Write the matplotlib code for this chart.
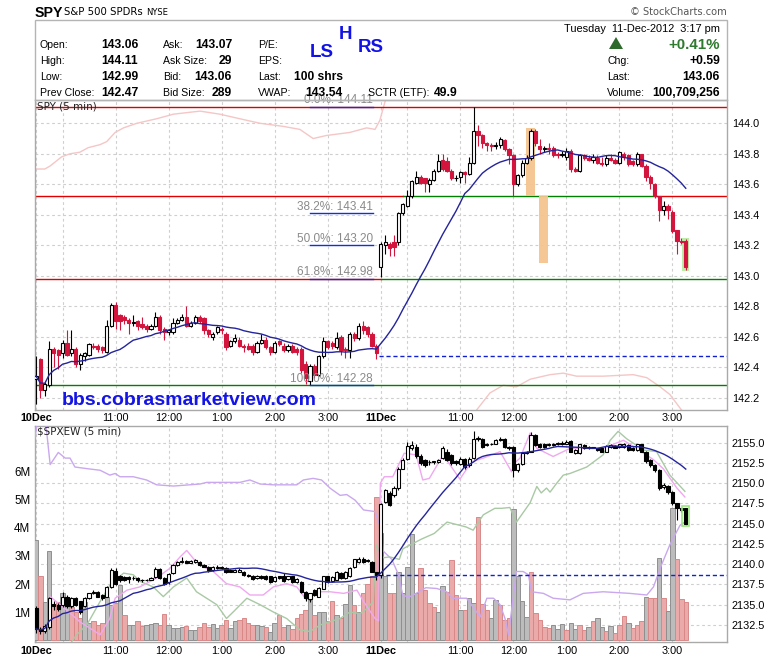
import numpy as np
import matplotlib
matplotlib.use('Agg')
import matplotlib.pyplot as plt
from matplotlib.patches import Rectangle, Polygon
from matplotlib import transforms

plt.rcParams['font.family'] = ['Liberation Sans', 'DejaVu Sans']

# ---------------- data ----------------
# bar index 0..77 = 10 Dec 9:30-15:55, 78..147 = 11 Dec 9:30-15:15 (5-min bars)
spy_open = [142.32,142.45,142.25,142.28,142.52,142.51,142.49,142.56,142.49,142.52,142.42,142.47,142.48,142.54,142.54,142.53,142.50,142.67,142.81,142.74,
            142.73,142.71,142.69,142.70,142.68,142.67,142.65,142.67,142.73,142.65,142.63,142.63,142.69,142.71,142.73,142.67,142.69,142.73,142.72,142.64,
            142.60,142.63,142.65,142.62,142.54,142.57,142.58,142.54,142.54,142.54,142.50,142.56,142.58,142.53,142.50,142.57,142.54,142.51,142.54,142.52,
            142.52,142.42,142.31,142.41,142.35,142.47,142.57,142.56,142.53,142.60,142.52,142.51,142.62,142.59,142.67,142.66,142.62,142.54,
            143.06,143.20,143.21,143.22,143.22,143.41,143.46,143.52,143.61,143.65,143.64,143.60,143.63,143.69,143.76,143.75,143.69,143.64,143.65,143.68,
            143.67,143.74,143.95,143.92,143.87,143.86,143.85,143.86,143.89,143.83,143.79,143.60,143.66,143.74,143.77,143.95,143.85,143.83,143.84,143.84,
            143.80,143.79,143.78,143.82,143.70,143.69,143.79,143.77,143.76,143.77,143.74,143.73,143.77,143.76,143.74,143.80,143.79,143.75,143.73,143.80,
            143.72,143.65,143.60,143.52,143.43,143.46,143.42,143.30,143.23,143.23]
spy_high = [142.47,142.46,142.30,142.57,142.53,142.52,142.58,142.64,142.64,142.53,142.49,142.50,142.56,142.56,142.55,142.54,142.71,142.82,142.83,142.75,
            142.74,142.72,142.74,142.71,142.73,142.68,142.68,142.76,142.74,142.66,142.65,142.72,142.72,142.75,142.80,142.70,142.74,142.74,142.73,142.65,
            142.63,142.67,142.66,142.63,142.58,142.62,142.60,142.55,142.56,142.55,142.57,142.62,142.60,142.54,142.57,142.58,142.56,142.55,142.55,142.53,
            142.53,142.44,142.42,142.42,142.48,142.60,142.58,142.57,142.63,142.61,142.53,142.63,142.63,142.69,142.70,142.67,142.63,142.55,
            143.22,143.27,143.22,143.27,143.42,143.48,143.56,143.63,143.69,143.66,143.64,143.64,143.70,143.80,143.80,143.78,143.70,143.66,143.69,143.69,
            143.78,144.11,143.99,143.93,143.88,143.87,143.88,143.91,143.90,143.84,143.80,143.67,143.76,143.79,143.96,143.96,143.90,143.85,143.87,143.85,
            143.81,143.82,143.84,143.83,143.71,143.80,143.80,143.79,143.80,143.79,143.78,143.79,143.80,143.77,143.82,143.81,143.80,143.76,143.81,143.80,
            143.73,143.66,143.61,143.52,143.49,143.47,143.43,143.30,143.25,143.24]
spy_low = [142.16,142.20,142.21,142.27,142.40,142.39,142.46,142.47,142.47,142.40,142.38,142.44,142.47,142.52,142.50,142.49,142.49,142.66,142.65,142.64,
           142.68,142.62,142.67,142.64,142.65,142.63,142.64,142.66,142.62,142.58,142.61,142.62,142.68,142.70,142.66,142.66,142.68,142.69,142.62,142.60,
           142.58,142.62,142.62,142.51,142.53,142.56,142.53,142.50,142.51,142.48,142.49,142.55,142.52,142.48,142.49,142.54,142.50,142.50,142.49,142.48,
           142.36,142.29,142.28,142.33,142.34,142.46,142.52,142.52,142.52,142.48,142.46,142.46,142.57,142.58,142.62,142.60,142.53,142.45,
           142.99,143.14,143.13,143.13,143.20,143.40,143.45,143.51,143.60,143.60,143.55,143.55,143.62,143.68,143.69,143.68,143.63,143.62,143.61,143.61,
           143.66,143.73,143.85,143.84,143.82,143.82,143.83,143.84,143.82,143.73,143.52,143.59,143.65,143.73,143.76,143.85,143.80,143.81,143.80,143.78,
           143.77,143.78,143.76,143.68,143.68,143.68,143.76,143.75,143.74,143.73,143.72,143.72,143.75,143.73,143.73,143.76,143.72,143.72,143.72,143.71,
           143.62,143.57,143.51,143.36,143.40,143.37,143.28,143.14,143.21,143.04]
spy_close = [142.34,142.25,142.29,142.52,142.49,142.48,142.56,142.48,142.52,142.42,142.48,142.49,142.55,142.53,142.52,142.51,142.67,142.81,142.70,142.70,
             142.71,142.69,142.695,142.67,142.66,142.65,142.67,142.73,142.64,142.63,142.64,142.69,142.71,142.73,142.67,142.69,142.73,142.70,142.64,142.62,
             142.62,142.66,142.64,142.53,142.57,142.59,142.54,142.53,142.52,142.50,142.56,142.58,142.53,142.50,142.56,142.55,142.51,142.54,142.50,142.50,
             142.38,142.33,142.41,142.35,142.47,142.57,142.53,142.54,142.59,142.51,142.51,142.62,142.59,142.67,142.64,142.62,142.54,142.49,
             143.21,143.22,143.18,143.19,143.41,143.47,143.52,143.62,143.65,143.61,143.61,143.63,143.69,143.75,143.70,143.69,143.64,143.64,143.68,143.67,
             143.74,143.95,143.92,143.87,143.86,143.85,143.86,143.90,143.83,143.79,143.60,143.66,143.74,143.77,143.95,143.87,143.83,143.84,143.83,143.79,
             143.79,143.80,143.82,143.70,143.69,143.79,143.77,143.76,143.78,143.74,143.73,143.77,143.76,143.74,143.81,143.78,143.73,143.73,143.80,143.72,
             143.65,143.61,143.52,143.43,143.46,143.43,143.29,143.23,143.22,143.06]

ew_open = [2134.6,2132.0,2131.8,2132.2,2135.1,2135.0,2135.0,2136.0,2134.8,2135.8,2135.4,2134.9,2135.8,2136.4,2136.6,2136.2,2136.0,2137.2,2139.2,2138.5,
           2138.4,2138.4,2138.25,2138.3,2138.1,2138.1,2138.1,2138.4,2139.4,2138.3,2137.8,2138.9,2139.9,2140.3,2140.4,2140.2,2140.3,2140.3,2139.9,2139.7,
           2139.3,2139.5,2139.7,2139.5,2139.3,2139.1,2139.1,2139.1,2138.7,2138.6,2138.3,2138.6,2138.6,2138.5,2137.9,2138.5,2138.5,2138.2,2138.5,2137.8,
           2137.8,2136.6,2135.7,2136.8,2136.0,2137.0,2138.5,2137.9,2138.1,2138.9,2138.3,2138.5,2139.6,2140.3,2140.7,2140.5,2140.3,2139.0,
           2138.7,2147.7,2148.8,2148.5,2149.4,2151.8,2153.0,2154.4,2154.5,2153.4,2152.9,2152.6,2152.6,2152.6,2153.1,2153.9,2153.5,2152.7,2152.4,2153.0,
           2152.2,2153.1,2155.4,2155.5,2154.9,2154.85,2154.9,2155.5,2155.5,2154.5,2154.5,2151.6,2152.4,2153.7,2153.9,2156.0,2154.9,2154.9,2154.7,2154.7,
           2154.8,2154.8,2154.9,2155.2,2153.7,2153.7,2154.7,2154.4,2154.4,2154.3,2154.3,2153.9,2154.5,2154.6,2154.5,2154.5,2154.7,2154.4,2154.1,2154.8,
           2153.9,2152.9,2152.3,2151.6,2149.5,2149.7,2148.9,2147.5,2146.9,2146.9]
ew_high = [2134.8,2132.3,2132.6,2136.0,2135.4,2135.2,2136.6,2136.2,2136.0,2136.0,2135.5,2135.9,2136.5,2136.8,2136.7,2136.3,2137.3,2139.5,2139.5,2138.7,
           2138.5,2138.5,2138.5,2138.4,2138.2,2138.2,2138.4,2139.6,2139.5,2138.4,2138.9,2140.0,2140.4,2140.9,2140.5,2140.5,2140.6,2140.4,2140.0,2139.8,
           2139.8,2139.9,2139.8,2139.6,2139.4,2139.4,2139.5,2139.2,2138.8,2138.7,2138.7,2138.7,2138.7,2138.6,2138.5,2138.6,2138.9,2138.6,2138.6,2138.3,
           2137.9,2136.7,2136.5,2136.9,2137.2,2138.6,2138.6,2138.5,2139.2,2139.0,2139.2,2139.6,2140.7,2140.9,2140.9,2140.6,2140.4,2139.1,
           2147.5,2149.3,2149.0,2149.6,2152.0,2153.1,2155.1,2155.2,2154.8,2153.6,2153.0,2152.9,2152.8,2153.0,2154.6,2154.2,2153.6,2152.9,2153.2,2153.1,
           2153.2,2156.4,2155.8,2155.6,2155.0,2155.0,2155.4,2155.7,2155.6,2154.6,2154.6,2152.5,2153.8,2154.0,2156.3,2156.1,2155.0,2155.0,2155.0,2155.0,
           2155.1,2155.2,2155.3,2155.3,2154.2,2154.9,2154.8,2154.6,2154.5,2154.4,2154.4,2154.7,2154.9,2154.7,2154.9,2155.0,2154.8,2154.5,2154.9,2154.9,
           2154.0,2153.0,2152.4,2151.7,2150.0,2149.8,2149.0,2147.6,2147.0,2147.0]
ew_low = [2131.5,2131.4,2131.5,2132.0,2134.3,2134.2,2134.7,2134.6,2134.6,2134.8,2133.8,2134.7,2135.7,2136.3,2135.9,2135.6,2135.9,2137.1,2137.4,2137.8,
          2137.9,2137.7,2138.0,2137.8,2137.8,2137.9,2138.0,2138.3,2138.2,2137.4,2137.6,2138.8,2139.8,2140.2,2140.1,2140.1,2140.2,2139.8,2139.6,2139.1,
          2139.2,2139.4,2139.4,2138.9,2139.0,2139.0,2139.0,2138.6,2138.4,2138.1,2138.2,2138.2,2138.1,2137.7,2137.8,2138.2,2137.8,2138.1,2137.7,2137.7,
          2136.5,2135.4,2135.3,2136.1,2135.9,2136.9,2137.7,2137.8,2138.0,2138.2,2138.2,2138.4,2139.5,2140.2,2140.2,2140.3,2139.0,2138.1,
          2138.3,2147.6,2147.2,2148.3,2149.2,2151.7,2152.9,2154.1,2153.1,2152.3,2152.0,2152.3,2152.4,2152.5,2153.0,2152.7,2152.3,2152.3,2152.2,2151.8,
          2152.0,2153.0,2155.2,2154.4,2154.6,2154.7,2154.8,2155.2,2154.4,2154.1,2150.8,2151.4,2152.3,2153.6,2153.8,2154.6,2154.4,2154.4,2154.6,2154.6,
          2154.7,2154.7,2154.8,2153.8,2153.6,2153.6,2154.2,2154.2,2154.3,2154.0,2153.8,2153.8,2154.4,2154.3,2154.4,2154.4,2154.0,2154.0,2154.0,2153.8,
          2152.5,2152.0,2151.4,2149.2,2149.3,2148.7,2147.3,2145.5,2146.5,2144.9]
ew_close = [2132.0,2131.8,2132.4,2135.8,2134.8,2134.5,2136.0,2134.8,2135.8,2135.0,2134.1,2135.8,2136.4,2136.6,2136.0,2135.8,2137.2,2139.3,2137.6,2138.0,
            2138.1,2138.2,2138.3,2138.0,2138.0,2138.0,2138.3,2139.4,2138.3,2137.6,2138.8,2139.9,2140.3,2140.4,2140.2,2140.4,2140.5,2139.9,2139.7,2139.3,
            2139.7,2139.7,2139.5,2139.0,2139.1,2139.3,2139.3,2138.7,2138.5,2138.2,2138.6,2138.3,2138.2,2137.8,2138.4,2138.3,2137.9,2138.5,2137.8,2138.2,
            2136.6,2135.8,2136.4,2136.2,2137.1,2138.5,2137.8,2138.4,2139.1,2138.3,2139.1,2139.5,2140.6,2140.7,2140.3,2140.4,2139.1,2138.7,
            2147.4,2149.2,2147.3,2149.4,2151.8,2152.9,2154.6,2154.7,2153.3,2152.5,2152.2,2152.6,2152.7,2152.9,2154.3,2152.9,2152.5,2152.5,2153.0,2152.0,
            2153.0,2155.5,2155.6,2154.5,2154.7,2154.9,2155.3,2155.3,2154.5,2154.3,2151.6,2152.4,2153.7,2153.9,2156.0,2154.7,2154.5,2154.5,2154.9,2154.9,
            2155.0,2155.0,2155.1,2153.9,2154.1,2154.8,2154.3,2154.4,2154.4,2154.1,2153.9,2154.6,2154.7,2154.4,2154.8,2154.8,2154.1,2154.1,2154.8,2153.9,
            2152.7,2152.3,2151.6,2149.4,2149.8,2148.9,2147.5,2146.9,2146.7,2145.0]
volume_m = [3.57,2.27,1.38,3.18,1.26,1.38,1.67,1.55,1.20,1.02,0.78,1.38,0.60,0.67,0.55,0.60,1.55,1.26,1.32,1.97,
            0.91,0.55,0.55,0.67,0.52,0.55,0.57,0.60,0.55,0.93,0.55,0.43,0.43,0.49,0.52,0.36,0.36,0.49,0.60,0.49,
            0.57,0.43,0.55,0.72,0.43,0.69,0.72,0.78,0.60,0.55,0.55,0.52,0.49,0.28,0.60,0.91,0.49,0.55,0.40,0.78,
            0.93,1.08,1.44,0.91,1.00,1.02,0.69,1.40,0.91,0.78,1.28,1.95,1.26,1.00,1.69,1.99,2.30,5.10,
            3.81,2.27,1.67,1.67,2.44,1.67,2.60,3.78,1.70,2.56,1.79,1.32,1.20,1.02,1.93,1.73,2.86,1.61,1.08,1.08,
            1.50,1.32,4.37,1.28,1.08,0.78,1.44,1.26,0.72,0.78,4.66,2.27,1.40,0.84,2.44,0.96,0.72,0.49,0.43,0.55,
            0.40,0.57,0.37,0.60,0.39,0.55,0.37,0.49,0.67,0.78,0.49,0.34,0.52,0.27,0.55,0.88,0.60,0.45,0.55,0.69,
            1.55,1.50,1.52,2.94,1.52,1.04,4.72,2.88,1.47,1.35]
volume_dir = ("grggrrggrrrggrrrggrgrggrrgggrrggggrggrrrggrrggrrrrggrggrrgrrrrgrggrrgrggrgrrrr"
              "ggrrgggggrrrrggrrrgrggrrrggrrrgggg" "rrrrrgggrggrrgrggrgrrrgrrrgrrgrggrrrr")

# overlay lines (bar index, value)
spy_pink1_x = [-0.3, 2.0, 3.2, 5.8, 7.7, 9.9, 11.8, 14.5, 16.0, 17.9, 19.8, 22.8, 27.3, 31.1, 37.1, 41.6, 46.1, 50.7, 55.9, 59.7, 62.7, 65.7, 71.0, 74.8, 76.7, 77.8, 79.7]
spy_pink1_y = [143.70, 143.70, 143.72, 143.78, 143.80, 143.81, 143.84, 143.86, 143.88, 143.94, 143.97, 144.00, 144.03, 144.06, 144.08, 144.06, 144.03, 144.00, 143.98, 143.96, 143.90, 143.92, 143.94, 143.97, 143.96, 144.02, 144.22]
spy_pink2_x = [99.2, 102.7, 105.7, 108.7, 111.8, 116.3, 119.3, 122.3, 128.3, 135.1, 138.2, 141.2, 143.4, 146.5]
spy_pink2_y = [142.10, 142.23, 142.28, 142.27, 142.32, 142.35, 142.36, 142.34, 142.34, 142.35, 142.33, 142.27, 142.22, 142.10]

ew_magenta_x = [3.2, 6.6, 9.9, 14.5, 16.7, 17.9, 20.6, 23.5, 27.3, 30.3, 32.6, 34.1, 35.6, 37.1, 40.1, 43.1, 46.1, 48.4, 51.4, 53.7,
                56.7, 59.0, 61.2, 63.1, 66.5, 69.6, 72.6, 74.1, 76.7, 77.5, 77.9, 78.8, 80.7, 82.6, 83.3, 86.0, 87.5, 89.0, 90.5, 91.8,
                93.0, 95.9, 97.5, 98.9, 101.2, 105.0, 107.6, 108.3, 109.5, 111.8, 113.3, 117.0, 120.8, 128.3, 132.9, 135.9, 139.7, 141.9, 145.0, 146.8]
ew_magenta_y = [2136.0, 2134.5, 2132.9, 2131.3, 2133.3, 2135.8, 2136.8, 2137.2, 2138.3, 2139.5, 2140.9, 2141.7, 2140.7, 2139.9, 2139.1, 2137.6, 2137.2, 2136.2, 2136.2, 2137.2,
                2137.6, 2137.2, 2135.6, 2136.6, 2136.6, 2136.4, 2136.8, 2135.4, 2133.3, 2133.0, 2150.0, 2150.8, 2150.8, 2152.9, 2153.7, 2153.5, 2150.4, 2150.6, 2152.0, 2153.2,
                2152.8, 2150.5, 2151.8, 2152.7, 2153.1, 2153.9, 2151.4, 2152.5, 2153.1, 2156.2, 2154.3, 2153.3, 2154.3, 2154.3, 2155.3, 2154.3, 2152.9, 2151.8, 2149.4, 2148.3]
ew_lavender_x = [-0.3, 0.6, 2.0, 3.2, 5.05, 6.6, 7.7, 8.8, 11.5, 14.5, 16.7, 17.9, 19.0, 22.0, 25.0, 27.3, 31.1, 37.1, 38.6, 46.1,
                 48.4, 50.7, 53.7, 59.0, 60.5, 62.7, 64.6, 66.5, 68.8, 70.3, 72.2, 74.1, 76.7, 77.8, 78.6, 80.5, 82.0, 83.0, 84.6, 86.0,
                 88.2, 90.7, 92.9, 94.3, 97.4, 100.5, 102.0, 103.5, 105.0, 106.1, 106.9, 108.7, 110.2, 111.4, 112.1, 114.8, 117.0, 120.8, 123.8, 128.3,
                 134.3, 138.2, 139.7, 141.2, 143.4, 145.7, 146.8]
ew_lavender_y = [2155.5, 2158.5, 2158.5, 2152.3, 2153.8, 2153.1, 2153.1, 2152.0, 2151.8, 2151.6, 2151.0, 2151.2, 2150.8, 2150.8, 2150.4, 2149.8, 2149.65, 2149.9, 2150.1, 2150.1,
                 2150.4, 2149.9, 2149.8, 2149.8, 2150.4, 2150.6, 2150.4, 2149.4, 2148.5, 2148.6, 2147.9, 2146.7, 2146.5, 2144.8, 2141.6, 2140.6, 2138.7, 2136.1, 2136.0, 2136.4,
                 2137.1, 2137.0, 2136.6, 2135.8, 2135.8, 2133.5, 2135.8, 2135.8, 2135.0, 2133.3, 2131.3, 2139.1, 2139.1, 2138.7, 2136.6, 2136.4, 2135.8, 2135.6, 2136.4, 2136.6,
                 2136.4, 2136.2, 2137.2, 2139.5, 2142.4, 2144.8, 2145.2]
ew_green_x = [7.5, 9.2, 11.5, 14.5, 16.7, 19.8, 22.0, 23.5, 26.5, 28.8, 31.1, 34.1, 36.3, 38.6, 40.9, 43.1, 44.6, 47.7, 50.7, 53.7,
              56.7, 59.7, 62.0, 64.3, 66.5, 68.8, 71.0, 73.3, 74.8, 76.3, 76.9, 78.6, 80.0, 82.2, 83.0, 87.2, 90.1, 93.0, 97.3, 98.9,
              101.2, 103.8, 105.3, 107.2, 108.7, 111.8, 113.3, 114.3, 115.5, 116.3, 117.8, 119.3, 120.8, 124.6, 128.3, 129.9, 131.7, 133.6, 137.4, 140.4,
              143.4, 146.8]
ew_green_y = [2130.0, 2131.3, 2132.5, 2135.4, 2137.4, 2138.9, 2138.7, 2137.9, 2137.2, 2136.0, 2137.2, 2138.3, 2136.6, 2135.8, 2135.0, 2133.3, 2134.1, 2135.8, 2135.0, 2134.1,
              2133.3, 2131.9, 2131.7, 2132.5, 2132.9, 2133.3, 2134.1, 2133.9, 2134.5, 2135.4, 2142.4, 2140.8, 2140.9, 2140.6, 2141.9, 2143.1, 2143.8, 2145.2, 2144.6, 2144.2,
              2146.1, 2146.9, 2146.9, 2147.0, 2145.2, 2147.6, 2149.6, 2148.8, 2149.4, 2148.9, 2150.0, 2151.0, 2151.2, 2152.0, 2153.5, 2155.3, 2156.4, 2155.5, 2154.1, 2153.9,
              2151.0, 2149.0]

spy_prev_close = 142.47
ew_prev_close = 2138.67
fib_pct = ['0.0%', '38.2%', '50.0%', '61.8%', '100.0%']
fib_level = [144.11, 143.41, 143.20, 142.98, 142.28]
# horizontal trend lines: (value, from bar, to bar, colour)
spy_hlines = [(144.11, -0.4, 157, 'red'), (143.52, -0.4, 83.0, 'red'), (143.52, 83.0, 140.5, 'green'),
              (143.52, 140.5, 157, 'red'), (142.98, -0.4, 78.0, 'red'), (142.98, 78.0, 157, 'green'),
              (142.28, -0.4, 157, 'green')]
# annotation boxes: (bar0, bar1, low, high, colour)
spy_boxes = [(110.8, 112.8, 143.52, 143.97, '#f5c48e'), (113.8, 115.8, 143.08, 143.52, '#f5c48e'),
             (146.2, 147.7, 143.03, 143.25, '#b9eea6')]

spy_ticks = [142.2, 142.4, 142.6, 142.8, 143.0, 143.2, 143.4, 143.6, 143.8, 144.0]
ew_ticks = [2132.5, 2135.0, 2137.5, 2140.0, 2142.5, 2145.0, 2147.5, 2150.0, 2152.5, 2155.0]
vol_ticks = [1, 2, 3, 4, 5, 6]
time_tick_idx = [0, 18, 30, 42, 54, 66, 78, 96, 108, 120, 132, 144]
time_tick_lab = ['10Dec', '11:00', '12:00', '1:00', '2:00', '3:00', '11Dec', '11:00', '12:00', '1:00', '2:00', '3:00']
extra_grid_idx = [6, 84]

# ---------------- figure ----------------
W, H = 780, 659
fig = plt.figure(figsize=(W / 100, H / 100), dpi=100)
fig.patch.set_facecolor('white')

def fx(x):
    return x / W

def fy(y):
    return 1 - y / H

def rect(l, t, r, b):
    return [fx(l), fy(b), (r - l) / W, (b - t) / H]

XL = (-0.34, 156.33)
GRID = dict(color='#cfcfcf', linestyle=(0, (2.5, 2.5)), linewidth=0.8)
SPINE = '#a9a9a9'
TICKFS = 7.8

def style_axes(ax):
    for s in ax.spines.values():
        s.set_color(SPINE)
        s.set_linewidth(1.0)

def time_axis(ax):
    ax.set_xlim(*XL)
    ax.set_xticks(time_tick_idx)
    ax.set_xticklabels(time_tick_lab)
    ax.set_xticks(extra_grid_idx, minor=True)
    ax.tick_params(axis='x', which='both', length=0, pad=2.5, labelsize=TICKFS, colors='black')
    for t in ax.get_xticklabels():
        if 'Dec' in t.get_text():
            t.set_fontweight('bold')

def candles(ax, o, h, l, c, up_face, up_edge, dn_face, dn_edge, minh, width=0.72, lw=0.8):
    o = np.asarray(o); h = np.asarray(h); l = np.asarray(l); c = np.asarray(c)
    x = np.arange(len(o))
    up = c >= o
    edge = [up_edge if u else dn_edge for u in up]
    face = [up_face if u else dn_face for u in up]
    ax.vlines(x, l, h, colors=edge, linewidth=lw, zorder=3)
    ax.bar(x, np.maximum(np.abs(c - o), minh), width, bottom=np.minimum(o, c),
           color=face, edgecolor=edge, linewidth=lw, zorder=4)

def sma(v, n=20):
    v = np.asarray(v)
    return np.array([v[max(0, i - n + 1):i + 1].mean() for i in range(len(v))])

idx = np.arange(len(spy_close))

# ---------------- top panel ----------------
ax1 = fig.add_axes(rect(34.5, 100, 727, 410))
style_axes(ax1)
ax1.set_ylim(142.118, 144.153)
time_axis(ax1)
ax1.yaxis.tick_right()
ax1.set_yticks(spy_ticks)
ax1.set_yticklabels([f'{t:.1f}' for t in spy_ticks])
ax1.tick_params(axis='y', length=0, pad=3.5, labelsize=TICKFS)
ax1.grid(True, which='both', **GRID)
ax1.set_axisbelow(True)

ax1.plot(spy_pink1_x, spy_pink1_y, color='#f5c6c6', lw=1.0, zorder=2)
ax1.plot(spy_pink2_x, spy_pink2_y, color='#f5c6c6', lw=1.0, zorder=2)
for v, a, b, col in spy_hlines:
    ax1.plot([a, b], [v, v], color='#e00000' if col == 'red' else '#008000', lw=1.0, zorder=2.5)
ax1.plot([77.5, 157], [spy_prev_close, spy_prev_close], color='#1020d0', lw=1.0, ls=(0, (3, 2)), zorder=2.5)
for b0, b1, lo, hi, col in spy_boxes:
    ax1.add_patch(Rectangle((b0, lo), b1 - b0, hi - lo, facecolor=col, edgecolor='none', alpha=0.95, zorder=2.6))
lab_tr = transforms.offset_copy(ax1.transData, fig=fig, x=0, y=3.5, units='dots')
for p, v in zip(fib_pct, fib_level):
    ax1.plot([62.0, 76.2], [v, v], color='#1030e0', lw=1.0, zorder=5)
    ax1.text(76.2, v, f'{p}: {v:.2f}', transform=lab_tr, ha='right', va='baseline',
             fontsize=8.5, color='#8a8a8a', zorder=6, clip_on=False)
candles(ax1, spy_open, spy_high, spy_low, spy_close, 'white', 'black', '#d3143c', '#d3143c', 0.004)
ax1.plot(idx, sma(spy_close), color='#24249c', lw=1.0, zorder=5)
ax1.text(0.004, 0.995, 'SPY (5 min)', transform=ax1.transAxes, ha='left', va='top',
         fontsize=7.5, family=['DejaVu Sans'], color='#222222', zorder=7)
fig.text(fx(62), fy(405), 'bbs.cobrasmarketview.com', fontsize=14, fontweight='bold',
         color='#1414e6', ha='left', va='baseline')

# ---------------- bottom panel ----------------
axg = fig.add_axes(rect(34.5, 425.7, 727, 642.3))
style_axes(axg)
axg.set_ylim(2130.36, 2157.1)
time_axis(axg)
axg.grid(True, which='both', **GRID)

axv = axg.twinx()
axv.patch.set_visible(False)
axv.set_ylim(-0.07, 7.63)
for s in axv.spines.values():
    s.set_visible(False)
vface = ['#bcbcbc' if d == 'g' else '#eaaaaa' for d in volume_dir]
vedge = ['#8f8f8f' if d == 'g' else '#d98888' for d in volume_dir]
axv.bar(idx, volume_m, 1.0, color=vface, edgecolor=vedge, linewidth=0.7)

axc = axg.twinx()
axc.patch.set_visible(False)
axc.set_ylim(2130.36, 2157.1)
for s in axc.spines.values():
    s.set_visible(False)
axc.set_xlim(*XL)
axc.plot(ew_lavender_x, ew_lavender_y, color='#c9a8ee', lw=1.0, zorder=2)
axc.plot(ew_green_x, ew_green_y, color='#a9c9a4', lw=1.0, zorder=2)
axc.plot(ew_magenta_x, ew_magenta_y, color='#f0a8f0', lw=1.0, zorder=2)
axc.plot([77.5, 157], [ew_prev_close, ew_prev_close], color='#1020e0', lw=1.0, ls=(0, (3, 2)), zorder=2.5)
candles(axc, ew_open, ew_high, ew_low, ew_close, 'white', 'black', 'black', 'black', 0.05)
axc.add_patch(Rectangle((146.25, 2144.7), 1.5, 2.5, facecolor='none', edgecolor='#9be87e', lw=1.2, zorder=6))
axc.plot(idx, sma(ew_close), color='#24249c', lw=1.0, zorder=5)
axc.text(0.004, 0.995, '$SPXEW (5 min)', transform=axc.transAxes, ha='left', va='top',
         fontsize=7.5, family=['DejaVu Sans'], color='#222222', zorder=7)

# tick sides (set after twinx, which moves them)
axg.yaxis.set_ticks_position('right')
axg.yaxis.set_label_position('right')
axg.set_yticks(ew_ticks)
axg.set_yticklabels([f'{t:.1f}' for t in ew_ticks])
axg.tick_params(axis='y', which='both', left=False, labelleft=False, right=False, labelright=True,
                length=0, pad=3.5, labelsize=TICKFS)
axv.set_yticks(vol_ticks)
axv.set_yticklabels([f'{t}M' for t in vol_ticks])
axv.tick_params(axis='y', which='both', left=False, labelleft=True, right=False, labelright=False,
                length=0, pad=3, labelsize=8.3)
axc.set_yticks([])
axc.tick_params(axis='both', which='both', left=False, right=False, labelleft=False, labelright=False,
                bottom=False, labelbottom=False)
axv.tick_params(axis='x', which='both', bottom=False, labelbottom=False)

# ---------------- header ----------------
fig.add_artist(Rectangle((fx(34.5), fy(100)), (727 - 34.5) / W, (100 - 19.5) / H,
                         transform=fig.transFigure, fill=False, edgecolor='#b4b4b4', lw=1.0, zorder=10))

def T(x, y, s, size=7.6, weight='normal', color='black', ha='left', family=None):
    kw = {}
    if family:
        kw['family'] = family
    fig.text(fx(x), fy(y), s, fontsize=size, fontweight=weight, color=color, ha=ha, va='baseline', **kw)

T(35, 16.7, 'SPY', size=10.2, weight='bold')
T(64, 15.3, 'S&P 500 SPDRs', size=7.3, family=['DejaVu Sans'])
T(146, 15.3, 'NYSE', size=6.0, family=['DejaVu Sans'])
T(727, 15, '\u00a9 StockCharts.com', size=7.1, color='#555555', ha='right', family=['DejaVu Sans'])

rows = [48.3, 64.2, 80.0, 95.8]
VAL = 8.7
for y, lab, val in zip(rows, ['Open:', 'High:', 'Low:', 'Prev Close:'], ['143.06', '144.11', '142.99', '142.47']):
    T(40, y, lab)
    T(101.5, y, val, size=VAL, weight='bold')
for y, lab, val in zip(rows, ['Ask:', 'Ask Size:', 'Bid:', 'Bid Size:'], ['143.07', '29', '143.06', '289']):
    T(163, y, lab)
    T(232, y, val, size=VAL, weight='bold', ha='right')
for y, lab, val in zip(rows, ['P/E:', 'EPS:', 'Last:', 'VWAP:'], ['', '', '100 shrs', '143.54']):
    T(258, y, lab)
    if val:
        T(343, y, val, size=VAL, weight='bold', ha='right')
T(368, rows[3], 'SCTR (ETF):')
T(434, rows[3], '49.9', size=VAL, weight='bold')
T(309.5, 56.7, 'LS', size=13.5, weight='bold', color='#1212e6')
T(338.5, 38.7, 'H', size=13.5, weight='bold', color='#1212e6')
T(357.5, 52.3, 'RS', size=13.5, weight='bold', color='#1212e6')

T(720, 32, 'Tuesday  11-Dec-2012  3:17 pm', size=7.9, ha='right')
fig.add_artist(Polygon([(fx(609), fy(49)), (fx(623), fy(49)), (fx(616), fy(37))],
                       closed=True, transform=fig.transFigure, facecolor='#2d6b2d', edgecolor='none'))
T(720, 49.3, '+0.41%', size=10.8, weight='bold', color='#2e7a2e', ha='right')
for y, lab, val in zip(rows[1:], ['Chg:', 'Last:', 'Volume:'], ['+0.59', '143.06', '100,709,256']):
    T(607, y, lab)
    T(720, y, val, size=VAL, weight='bold', ha='right')

fig.savefig('out.png', dpi=100, facecolor='white')
